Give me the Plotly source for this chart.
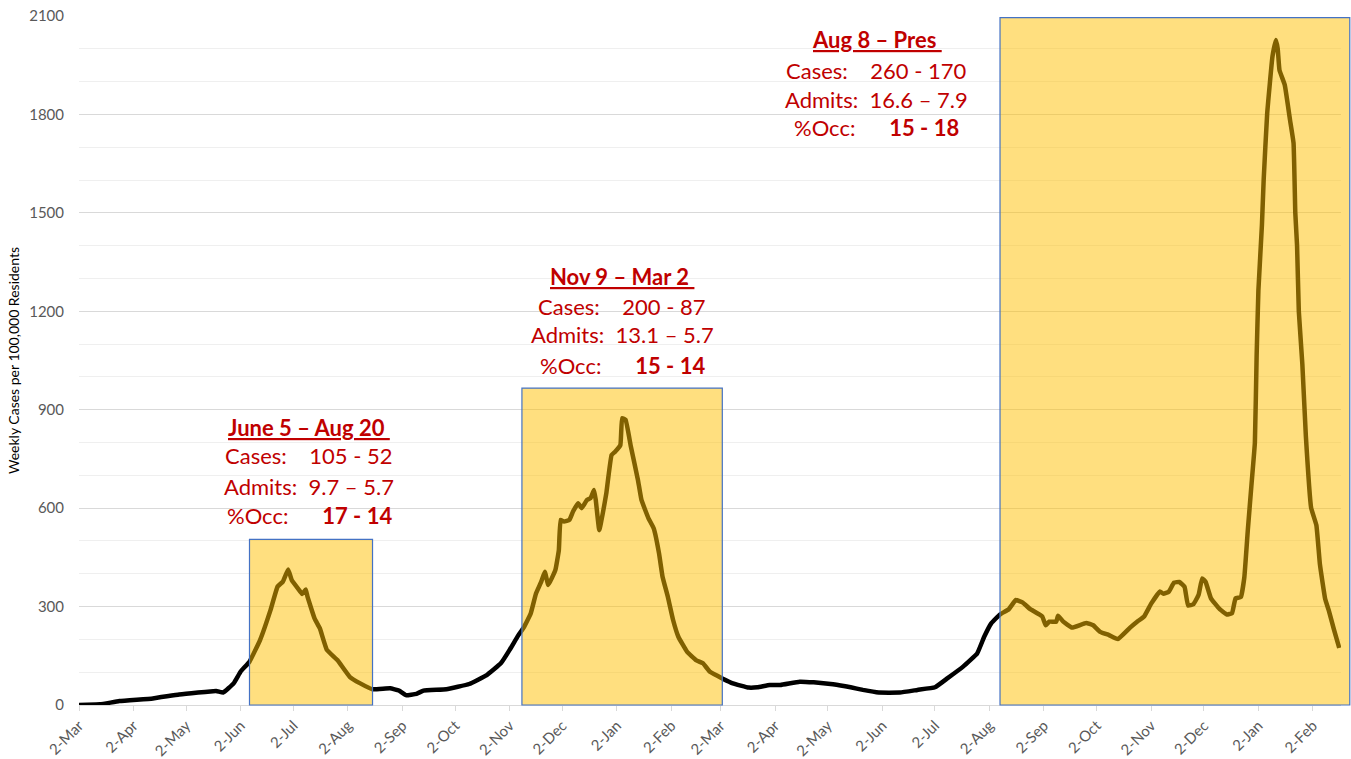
import plotly.graph_objects as go
import pandas as pd

# ---- data ----
dates = [
    "2020-03-02", "2020-03-14", "2020-03-25", "2020-04-13", "2020-04-28", "2020-05-19", "2020-05-23",
    "2020-05-29", "2020-06-02", "2020-06-07", "2020-06-13", "2020-06-19", "2020-06-23", "2020-06-26",
    "2020-06-29", "2020-07-01", "2020-07-06", "2020-07-07", "2020-07-09", "2020-07-10", "2020-07-14",
    "2020-07-17", "2020-07-21", "2020-07-27", "2020-08-03", "2020-08-09", "2020-08-16", "2020-08-26",
    "2020-08-31", "2020-09-04", "2020-09-10", "2020-09-14", "2020-09-27", "2020-10-10", "2020-10-20",
    "2020-10-28", "2020-11-02", "2020-11-07", "2020-11-10", "2020-11-14", "2020-11-17", "2020-11-20",
    "2020-11-22", "2020-11-24", "2020-11-28", "2020-11-30", "2020-12-01", "2020-12-03", "2020-12-06",
    "2020-12-08", "2020-12-11", "2020-12-13", "2020-12-16", "2020-12-18", "2020-12-20", "2020-12-21",
    "2020-12-23", "2020-12-25", "2020-12-27", "2020-12-30", "2021-01-01", "2021-01-04", "2021-01-05",
    "2021-01-07", "2021-01-10", "2021-01-14", "2021-01-16", "2021-01-20", "2021-01-23", "2021-01-26",
    "2021-01-28", "2021-01-31", "2021-02-03", "2021-02-06", "2021-02-11", "2021-02-16", "2021-02-20",
    "2021-02-24", "2021-03-03", "2021-03-09", "2021-03-18", "2021-03-23", "2021-03-30", "2021-04-05",
    "2021-04-16", "2021-04-24", "2021-05-05", "2021-05-15", "2021-05-22", "2021-05-31", "2021-06-12",
    "2021-06-22", "2021-07-02", "2021-07-09", "2021-07-18", "2021-07-26", "2021-07-30", "2021-08-03",
    "2021-08-08", "2021-08-13", "2021-08-17", "2021-08-21", "2021-08-25", "2021-09-01", "2021-09-03",
    "2021-09-05", "2021-09-09", "2021-09-10", "2021-09-13", "2021-09-18", "2021-09-26", "2021-09-30",
    "2021-10-04", "2021-10-09", "2021-10-14", "2021-10-21", "2021-10-25", "2021-10-29", "2021-11-02",
    "2021-11-07", "2021-11-09", "2021-11-12", "2021-11-15", "2021-11-18", "2021-11-21", "2021-11-23",
    "2021-11-26", "2021-11-29", "2021-12-01", "2021-12-03", "2021-12-06", "2021-12-11", "2021-12-15",
    "2021-12-18", "2021-12-20", "2021-12-23", "2021-12-25", "2021-12-27", "2021-12-29", "2021-12-31",
    "2022-01-01", "2022-01-02", "2022-01-04", "2022-01-05", "2022-01-07", "2022-01-10", "2022-01-12",
    "2022-01-13", "2022-01-14", "2022-01-17", "2022-01-20", "2022-01-22", "2022-01-23", "2022-01-24",
    "2022-01-25", "2022-01-27", "2022-01-29", "2022-02-01", "2022-02-04", "2022-02-06", "2022-02-09",
    "2022-02-11", "2022-02-14", "2022-02-17",
]
cases = [
    0, 2, 12, 20, 32, 43, 38,
    66, 102, 132, 198, 290, 361, 376,
    413, 381, 345, 338, 352, 330, 264,
    234, 168, 137, 86, 66, 48, 51,
    44, 30, 34, 44, 48, 64, 91,
    127, 168, 213, 236, 279, 340, 376,
    406, 366, 411, 472, 564, 559, 564,
    589, 615, 600, 625, 630, 655, 625,
    533, 584, 645, 762, 772, 792, 874,
    869, 787, 686, 625, 569, 538, 462,
    391, 330, 259, 208, 162, 137, 127,
    101, 81, 66, 53, 54, 61, 61,
    71, 69, 63, 54, 46, 38, 38,
    46, 54, 81, 117, 157, 208, 249,
    276, 292, 320, 312, 293, 270, 243,
    254, 254, 272, 254, 236, 250, 243,
    223, 213, 201, 236, 254, 270, 309,
    346, 339, 345, 373, 375, 360, 303,
    307, 336, 386, 375, 325, 292, 276,
    280, 325, 329, 389, 534, 667, 799,
    1064, 1263, 1462, 1600, 1803, 1976, 2027,
    2000, 1935, 1890, 1783, 1713, 1500, 1400,
    1200, 1040, 820, 601, 548, 429, 323,
    289, 230, 174,
]

tick_dates = [
    "2020-03-02", "2020-04-02", "2020-05-02", "2020-06-02", "2020-07-02", "2020-08-02",
    "2020-09-02", "2020-10-02", "2020-11-02", "2020-12-02", "2021-01-02", "2021-02-02",
    "2021-03-02", "2021-04-02", "2021-05-02", "2021-06-02", "2021-07-02", "2021-08-02",
    "2021-09-02", "2021-10-02", "2021-11-02", "2021-12-02", "2022-01-02", "2022-02-02",
]
tick_labels = [
    "2-Mar", "2-Apr", "2-May", "2-Jun", "2-Jul", "2-Aug", "2-Sep", "2-Oct", "2-Nov", "2-Dec",
    "2-Jan", "2-Feb", "2-Mar", "2-Apr", "2-May", "2-Jun", "2-Jul", "2-Aug", "2-Sep", "2-Oct",
    "2-Nov", "2-Dec", "2-Jan", "2-Feb",
]

period_starts = ["2020-06-07", "2020-11-09", "2021-08-08"]
period_ends = ["2020-08-16", "2021-03-03", "2022-02-23"]
period_tops = [505, 966, 2095]

period_titles = ["June 5 – Aug 20", "Nov 9 – Mar 2", "Aug 8 – Pres"]
period_cases = ["105 - 52", "200 - 87", "260 - 170"]
period_admits = ["9.7 – 5.7", "13.1 – 5.7", "16.6 – 7.9"]
period_occ = ["17 - 14", "15 - 14", "15 - 18"]

# ---- layout constants ----
X_START = pd.Timestamp("2020-03-02")
X_END = pd.Timestamp("2022-02-18")
Y_MAX = 2100
RED = "#C00000"
FONT = "Lato, 'Open Sans', sans-serif"

def xfrac(d):
    d = pd.Timestamp(d)
    return (d - X_START) / (X_END - X_START)

fig = go.Figure()
fig.add_trace(go.Scatter(
    x=dates, y=cases, mode="lines",
    line=dict(color="#000000", width=4.5, shape="spline", smoothing=0.3),
    hoverinfo="x+y", showlegend=False,
))

for s, e, top in zip(period_starts, period_ends, period_tops):
    fig.add_shape(
        type="rect", xref="paper", yref="paper",
        x0=xfrac(s), x1=xfrac(e), y0=0, y1=top / Y_MAX,
        fillcolor="rgba(255,192,0,0.5)",
        line=dict(color="#4472C4", width=1.2),
        layer="above",
    )

# annotation anchor positions (centre date, y values of the 4 text lines)
ann_x = ["2020-07-11", "2021-01-05", "2021-05-30"]
ann_y = [[847, 759, 667, 579], [1307, 1216, 1128, 1036], [2027, 1935, 1847, 1759]]
NB = "\u00a0"
for i in range(3):
    lines = [
        f"<b><u>{period_titles[i]}{NB}</u></b>",
        f"Cases:{NB*4}{period_cases[i]}",
        f"Admits:{NB*2}{period_admits[i]}",
        f"%Occ:{NB*6}<b>{period_occ[i]}</b>",
    ]
    for txt, yv in zip(lines, ann_y[i]):
        fig.add_annotation(
            x=ann_x[i], y=yv, xref="x", yref="y", text=txt, showarrow=False,
            font=dict(family=FONT, size=22, color=RED), xanchor="center", yanchor="middle",
        )

fig.update_layout(
    width=1351, height=759,
    margin=dict(l=79, r=10, t=16, b=54),
    plot_bgcolor="white", paper_bgcolor="white",
    font=dict(family=FONT, color="#595959"),
    showlegend=False,
)
fig.update_xaxes(
    range=[X_START, X_END],
    tickmode="array", tickvals=tick_dates, ticktext=tick_labels,
    tickangle=-45, tickfont=dict(size=15, color="#595959"),
    showgrid=False, showline=True, linecolor="#D9D9D9", linewidth=1,
    ticks="outside", ticklen=5, tickcolor="#D9D9D9",
    automargin=False, zeroline=False,
)
fig.update_yaxes(
    range=[0, Y_MAX], tickmode="array", tickvals=list(range(0, 2101, 300)),
    tickfont=dict(size=15, color="#595959"),
    ticklabeloverflow="allow",
    showgrid=True, gridcolor="#D9D9D9", gridwidth=1,
    minor=dict(tickmode="linear", tick0=0, dtick=100, showgrid=True, gridcolor="#EFEFEF", gridwidth=1),
    zeroline=False, showline=False,
    ticklabelstandoff=14,
    title=dict(text="Weekly Cases per 100,000 Residents", font=dict(size=14, color="#000000"), standoff=6),
    automargin=False,
)

# remove the default 8px page margin so the figure fills the window exactly
fig.write_html(
    "out.html",
    config={"displayModeBar": False},
    post_script="document.body.style.margin='0';document.body.style.overflow='hidden';",
)
